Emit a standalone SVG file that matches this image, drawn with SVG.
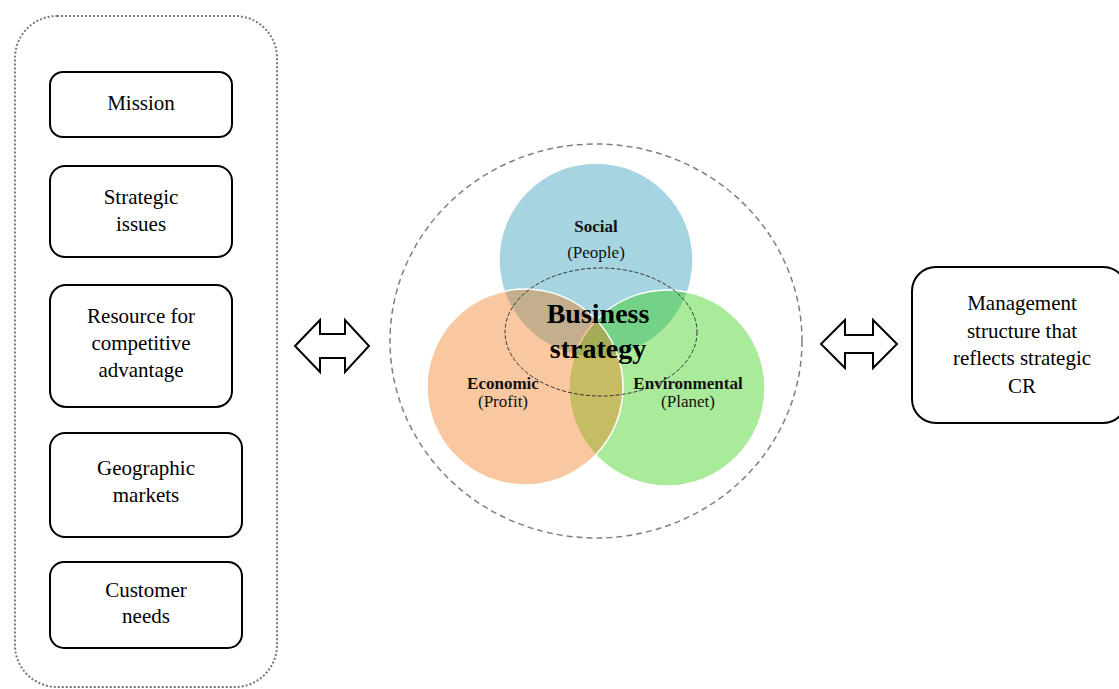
<svg xmlns="http://www.w3.org/2000/svg" width="1119" height="689" viewBox="0 0 1119 689">
<style>
.box{fill:#fff;stroke:#000;stroke-width:2}
.t{font-family:"Liberation Serif","Times New Roman",serif;font-size:21px;fill:#000;text-anchor:middle}
.lbl{font-family:"Liberation Serif","Times New Roman",serif;font-size:17px;fill:#111;text-anchor:middle}
.b{font-weight:bold}
.arrow{fill:#fff;stroke:#000;stroke-width:2;stroke-linejoin:miter}
</style>
<rect width="1119" height="689" fill="#fff"/>
<g id="left-group">
<rect x="15" y="16" width="262" height="671" rx="42" fill="none" stroke="#777" stroke-width="2" stroke-dasharray="2 2"/>
</g>
<g id="mission"><rect class="box" x="50" y="72" width="182" height="65" rx="13"/><text class="t" x="141" y="110">Mission</text></g>
<g id="strategic-issues"><rect class="box" x="50" y="166" width="182" height="91" rx="15"/><text class="t" x="141" y="204">Strategic</text><text class="t" x="141" y="231">issues</text></g>
<g id="resource"><rect class="box" x="50" y="285" width="182" height="122" rx="16"/><text class="t" x="141" y="323">Resource for</text><text class="t" x="141" y="350">competitive</text><text class="t" x="141" y="377">advantage</text></g>
<g id="geographic"><rect class="box" x="50" y="433" width="192" height="104" rx="15"/><text class="t" x="146" y="475">Geographic</text><text class="t" x="146" y="502">markets</text></g>
<g id="customer"><rect class="box" x="50" y="562" width="192" height="86" rx="14"/><text class="t" x="146" y="597">Customer</text><text class="t" x="146" y="623">needs</text></g>
<g id="venn">
<ellipse cx="596" cy="341" rx="206" ry="197" fill="none" stroke="#808080" stroke-width="1.5" stroke-dasharray="6 4"/>
<circle cx="596" cy="260" r="97" fill="#A6D4E0" stroke="#fff" stroke-width="1.5"/>
<circle cx="667" cy="388" r="98" fill="rgb(42,205,5)" fill-opacity="0.4" stroke="#fff" stroke-width="1.5"/>
<circle cx="525" cy="387" r="98" fill="rgb(240,117,17)" fill-opacity="0.4" stroke="#fff" stroke-width="1.5"/>
<ellipse cx="601" cy="332" rx="96" ry="64" fill="none" stroke="#333" stroke-width="1" stroke-dasharray="4 2"/>
<text class="lbl b" x="596" y="232">Social</text>
<text class="lbl" x="596" y="258">(People)</text>
<text class="lbl b" x="503" y="389">Economic</text>
<text class="lbl" x="503" y="407">(Profit)</text>
<text class="lbl b" x="688" y="389">Environmental</text>
<text class="lbl" x="688" y="407">(Planet)</text>
<text class="t b" x="598" y="323" style="font-size:28px">Business</text>
<text class="t b" x="598" y="358" style="font-size:28px">strategy</text>
</g>
<g id="management"><rect class="box" x="912" y="267" width="215" height="156" rx="24"/><text class="t" x="1022" y="310">Management</text><text class="t" x="1022" y="338">structure that</text><text class="t" x="1022" y="365">reflects strategic</text><text class="t" x="1022" y="393">CR</text></g>
<g id="connectors">
<polygon class="arrow" points="295,346 320,320 320,334 345,334 345,320 369,346 345,372 345,358 320,358 320,372"/>
<polygon class="arrow" points="821,344 845,320 845,335 873,335 873,320 897,344 873,368 873,353 845,353 845,368"/>
</g>
</svg>
